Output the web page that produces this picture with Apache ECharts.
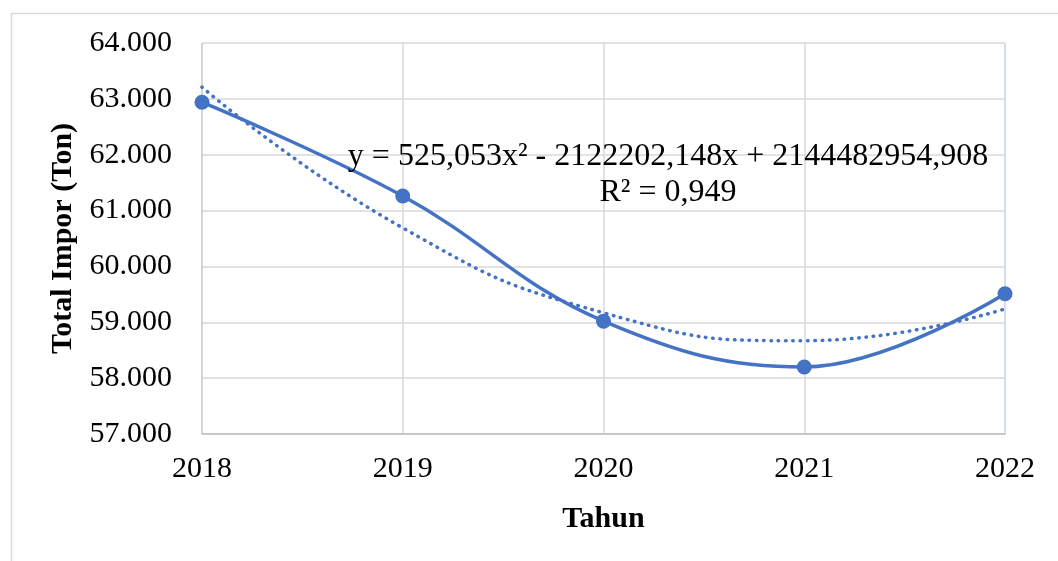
<!DOCTYPE html>
<html>
<head>
<meta charset="utf-8">
<script src="https://cdn.jsdelivr.net/npm/echarts@6/dist/echarts.min.js"></script>
<style>html,body{margin:0;padding:0;background:#fff;}#c{width:1058px;height:561px;}</style>
</head>
<body>
<div id="c"></div>
<script>
const years = [2018, 2019, 2020, 2021, 2022];
const imports = [62940, 61260, 59020, 58200, 59510];
const trend = [63210, 60690, 59170, 58670, 59240];
const yTickLabels = ['57.000', '58.000', '59.000', '60.000', '61.000', '62.000', '63.000', '64.000'];
const equationText = 'y = 525,053x² - 2122202,148x + 2144482954,908';
const r2Text = 'R² = 0,949';
const xTitle = 'Tahun';
const yTitle = 'Total Impor (Ton)';

const FONT = "'Liberation Serif', 'Times New Roman', serif";
const chart = echarts.init(document.getElementById('c'));
chart.setOption({
  animation: false,
  backgroundColor: '#fff',
  grid: { left: 202, right: 53, top: 43, bottom: 127 },
  xAxis: {
    type: 'value', min: 2018, max: 2022, interval: 1,
    name: xTitle, nameLocation: 'middle', nameGap: 70,
    nameTextStyle: { fontFamily: FONT, fontSize: 30, fontWeight: 'bold', color: '#000' },
    axisLine: { show: true, lineStyle: { color: '#bfbfbf', width: 1.5 } },
    axisTick: { show: false },
    axisLabel: { fontFamily: FONT, fontSize: 30, color: '#000', margin: 20, formatter: v => String(v) },
    splitLine: { show: true, lineStyle: { color: ['#c8c8c8', '#d9d9d9', '#d9d9d9', '#d9d9d9', '#c5d3ec'], width: 1.5 } }
  },
  yAxis: {
    type: 'value', min: 57000, max: 64000, interval: 1000,
    name: yTitle, nameLocation: 'middle', nameGap: 124, nameRotate: 90,
    nameTextStyle: { fontFamily: FONT, fontSize: 30, fontWeight: 'bold', color: '#000' },
    axisLine: { show: false },
    axisTick: { show: false },
    axisLabel: { fontFamily: FONT, fontSize: 30, color: '#000', margin: 30,
      formatter: v => yTickLabels[Math.round((v - 57000) / 1000)] },
    splitLine: { show: true, lineStyle: { color: '#d9d9d9', width: 1.5 } }
  },
  series: [
    {
      type: 'line', name: 'trend', data: years.map((y, i) => [y, trend[i]]),
      smooth: 0.5, symbol: 'none',
      lineStyle: { color: '#4472C4', width: 3.5, type: [0.5, 6.8], cap: 'round' },
      z: 2
    },
    {
      type: 'line', name: 'Total Impor', data: years.map((y, i) => [y, imports[i]]),
      smooth: 0.4, symbol: 'circle', symbolSize: 15,
      lineStyle: { color: '#4472C4', width: 3.5 },
      itemStyle: { color: '#4472C4' },
      z: 3
    }
  ],
  graphic: [
    { type: 'rect', left: 9, top: 11, shape: { width: 1200, height: 700 },
      style: { fill: 'none', stroke: '#d9d9d9', lineWidth: 1.5 }, silent: true, z: -10 },
    { type: 'text', x: 668, y: 157, style: { text: equationText, font: '32px ' + FONT, fill: '#000', textAlign: 'center', textVerticalAlign: 'middle' }, z: 10 },
    { type: 'text', x: 668, y: 193, style: { text: r2Text, font: '32px ' + FONT, fill: '#000', textAlign: 'center', textVerticalAlign: 'middle' }, z: 10 }
  ]
});
</script>
</body>
</html>
